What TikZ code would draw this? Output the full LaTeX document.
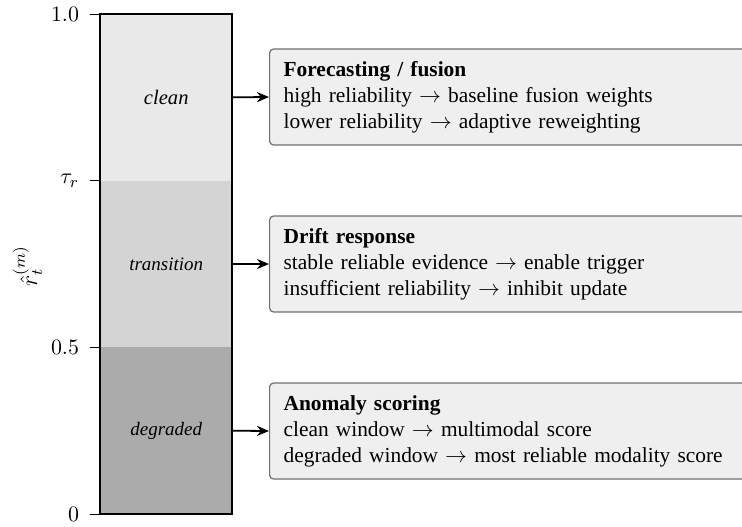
\documentclass[tikz,border=0pt]{standalone}
\usepackage{fontspec}
\setmainfont{Liberation Serif}
\usetikzlibrary{arrows.meta}
\definecolor{cleanfill}{HTML}{E9E9E9}
\definecolor{transfill}{HTML}{D4D4D4}
\definecolor{degrfill}{HTML}{ABABAB}
\definecolor{boxfill}{HTML}{EFEFEF}
\definecolor{boxdraw}{HTML}{6E6E6E}
\begin{document}
\begin{tikzpicture}[x=0.5pt,y=-0.5pt,font=\fontsize{10.95}{13}\selectfont,
  region/.style={minimum width=65.75pt,minimum height=83.33pt,inner sep=0pt},
  infobox/.style={draw=boxdraw,fill=boxfill,line width=0.6pt,rounded corners=2pt,
    anchor=west,minimum height=48pt,text width=260pt,align=left,inner xsep=7pt,inner ysep=0pt,
    font=\fontsize{10.7}{13}\selectfont},
  tick/.style={line width=0.5pt},
  ticklabel/.style={anchor=east,inner sep=0pt},
  link/.style={line width=0.9pt,-{Stealth[length=6pt,width=5pt]}}
]
\useasboundingbox (0,0) rectangle (742,526);
\node[region,fill=cleanfill,font=\fontsize{10.3}{12}\selectfont\itshape] (clean) at (166.25,97.33) {clean};
\node[region,fill=transfill,font=\fontsize{9.5}{11}\selectfont\itshape] (trans) at (166.25,264) {transition};
\node[region,fill=degrfill,font=\fontsize{9.5}{11}\selectfont\itshape] (degr) at (166.25,430.67) {degraded};
\draw[line width=1pt] (clean.north west) rectangle (degr.south east);
% ticks
\coordinate (t1) at (100.5,14);
\coordinate (t2) at (100.5,180.67);
\coordinate (t3) at (100.5,347.33);
\coordinate (t4) at (100.5,514);
\draw[tick] (t1) -- ++(-11,0) node[ticklabel,xshift=-5pt] (l1) {$1.0$};
\draw[tick] (t2) -- ++(-11,0) node[ticklabel,xshift=-5pt] (l2) {$\tau_r$};
\draw[tick] (t3) -- ++(-11,0) node[ticklabel,xshift=-5pt] (l3) {$0.5$};
\draw[tick] (t4) -- ++(-11,0) node[ticklabel,xshift=-5pt] (l4) {$0$};
\node[rotate=90,font=\fontsize{12}{14}\selectfont] (ylab) at (27.5,266) {$\hat{r}_t^{(m)}$};
% boxes
\node[infobox] (b1) at (269,97) {\textbf{Forecasting / fusion}\\
high reliability $\rightarrow$ baseline fusion weights\\
lower reliability $\rightarrow$ adaptive reweighting};
\node[infobox] (b2) at (269,264) {\textbf{Drift response}\\
stable reliable evidence $\rightarrow$ enable trigger\\
insufficient reliability $\rightarrow$ inhibit update};
\node[infobox] (b3) at (269,431) {\textbf{Anomaly scoring}\\
clean window $\rightarrow$ multimodal score\\
degraded window $\rightarrow$ most reliable modality score};
\draw[link] (clean.east) -- (b1.west);
\draw[link] (trans.east) -- (b2.west);
\draw[link] (degr.east) -- (b3.west);
\end{tikzpicture}
\end{document}
